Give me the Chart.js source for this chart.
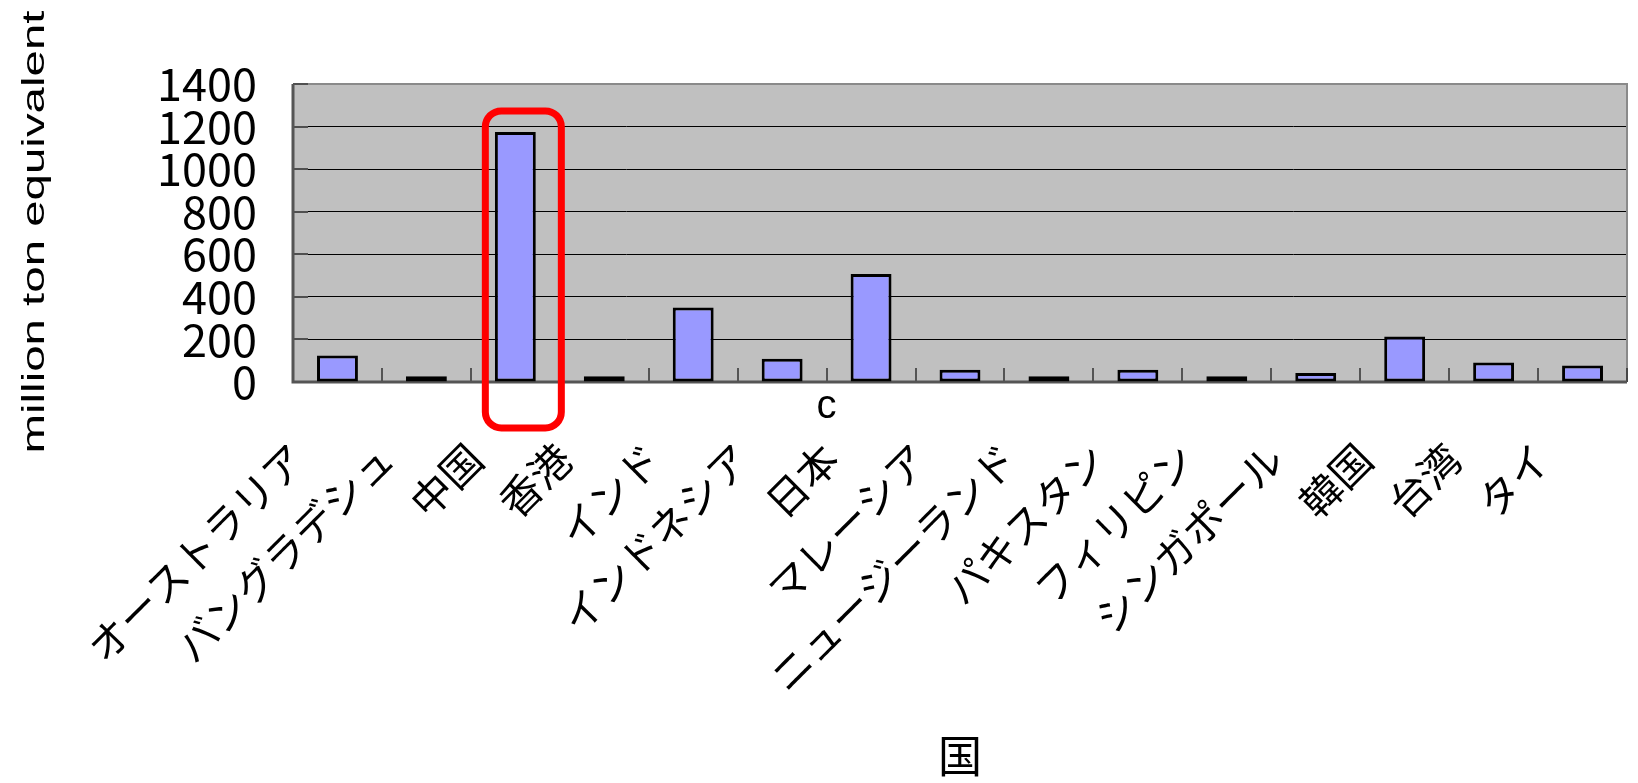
<!DOCTYPE html>
<html>
<head>
<meta charset="utf-8">
<script src="https://cdn.jsdelivr.net/npm/chart.js@4.4.0/dist/chart.umd.min.js"></script>
<style>
  html, body { margin: 0; padding: 0; background: #fff; }
  #wrap { width: 1638px; height: 783px; }
</style>
</head>
<body>
<div id="wrap"><canvas id="chart" width="1638" height="783"></canvas></div>
<script>
// data
const countries = ['オーストラリア', 'バングラデシュ', '中国', '香港', 'インド', 'インドネシア', '日本',
  'マレーシア', 'ニュージーランド', 'パキスタン', 'フィリピン', 'シンガポール', '韓国', '台湾', 'タイ'];
const values = [125, 27, 1175, 27, 350, 109, 507, 58, 27, 58, 27, 42, 214, 92, 77];
const yMin = 0;
const yMax = 1400;
const yStep = 200;
const yTitle = 'million ton equivalent';
const xTitle = '国';
const strayText = 'c';

const jpFont = '"Noto Sans CJK JP", sans-serif';

// grey plot area, frame and the small inside tick marks
const plotFrame = {
  id: 'plotFrame',
  beforeDraw(chart) {
    const { ctx, chartArea: a } = chart;
    ctx.save();
    ctx.fillStyle = '#c0c0c0';
    ctx.fillRect(a.left, a.top, a.right - a.left, a.bottom - a.top);
    ctx.restore();
  },
  beforeDatasetsDraw(chart) {
    const { ctx, chartArea: a, scales } = chart;
    ctx.save();
    // top and right border
    ctx.strokeStyle = '#8a8a8a';
    ctx.lineWidth = 2;
    ctx.beginPath();
    ctx.moveTo(a.left, a.top);
    ctx.lineTo(a.right, a.top);
    ctx.lineTo(a.right, a.bottom);
    ctx.stroke();
    // y ticks pointing inwards
    ctx.strokeStyle = '#505050';
    ctx.lineWidth = 2;
    scales.y.ticks.forEach((t) => {
      const py = Math.round(scales.y.getPixelForValue(t.value));
      ctx.beginPath();
      ctx.moveTo(a.left, py);
      ctx.lineTo(a.left + 15, py);
      ctx.stroke();
    });
    // x ticks between categories
    ctx.strokeStyle = '#303030';
    ctx.lineWidth = 1.5;
    for (let i = 0; i <= countries.length; i++) {
      const px = Math.round(scales.x.getPixelForValue(i - 0.5));
      ctx.beginPath();
      ctx.moveTo(px, a.bottom);
      ctx.lineTo(px, a.bottom - 14);
      ctx.stroke();
    }
    // axis lines
    ctx.strokeStyle = '#555555';
    ctx.lineWidth = 3;
    ctx.beginPath();
    ctx.moveTo(a.left, a.top);
    ctx.lineTo(a.left, a.bottom);
    ctx.lineTo(a.right, a.bottom);
    ctx.stroke();
    ctx.restore();
  }
};

// red rounded box around the China bar, y title and the stray "c"
const extras = {
  id: 'extras',
  afterDraw(chart) {
    const { ctx, chartArea: a, scales } = chart;
    const bar = chart.getDatasetMeta(0).data[2];
    ctx.save();
    ctx.strokeStyle = '#ff0000';
    ctx.lineWidth = 7;
    ctx.beginPath();
    ctx.roundRect(bar.x - 30, bar.y - 21, 76, a.bottom + 46 - (bar.y - 21), 16);
    ctx.stroke();

    ctx.fillStyle = '#000';
    ctx.font = '31px "Liberation Sans", Arial, sans-serif';
    ctx.textAlign = 'center';
    ctx.textBaseline = 'middle';
    ctx.translate(35, 232);
    ctx.rotate(-Math.PI / 2);
    ctx.scale(1.53, 1);
    ctx.fillText(yTitle, 0, 0);
    ctx.restore();

    ctx.save();
    ctx.fillStyle = '#000';
    ctx.font = '40px "Liberation Sans", Arial, sans-serif';
    ctx.textAlign = 'center';
    ctx.textBaseline = 'alphabetic';
    ctx.fillText(strayText, scales.x.getPixelForValue(5.5), a.bottom + 36);
    ctx.restore();
  }
};

new Chart(document.getElementById('chart'), {
  type: 'bar',
  data: {
    labels: countries,
    datasets: [{
      data: values,
      backgroundColor: '#9999ff',
      borderColor: '#000000',
      borderWidth: 3,
      borderSkipped: false,
      categoryPercentage: 1,
      barPercentage: 0.46
    }]
  },
  options: {
    responsive: false,
    animation: false,
    devicePixelRatio: 1,
    layout: { padding: { top: 84, right: 11, left: 0, bottom: 0 } },
    plugins: {
      legend: { display: false },
      tooltip: { enabled: false }
    },
    scales: {
      x: {
        afterFit(scale) {
          scale.height = 401;
          scale.paddingLeft = 0;
          scale.paddingRight = 0;
        },
        grid: { display: false },
        border: { display: false },
        ticks: {
          color: '#000',
          autoSkip: false,
          minRotation: 45,
          maxRotation: 45,
          padding: 44,
          labelOffset: -40,
          font: { family: jpFont, size: 41 }
        },
        title: {
          display: true,
          text: xTitle,
          color: '#000',
          padding: { top: 0, bottom: 0 },
          font: { family: jpFont, size: 44 }
        }
      },
      y: {
        min: yMin,
        max: yMax,
        afterFit(scale) { scale.width = 293; },
        grid: { color: '#000', lineWidth: 1, drawTicks: false },
        border: { display: false },
        ticks: {
          stepSize: yStep,
          autoSkip: false,
          color: '#000',
          padding: 36,
          callback: (v) => String(v),
          font: { family: jpFont, size: 45 }
        }
      }
    }
  },
  plugins: [plotFrame, extras]
});
</script>
</body>
</html>
